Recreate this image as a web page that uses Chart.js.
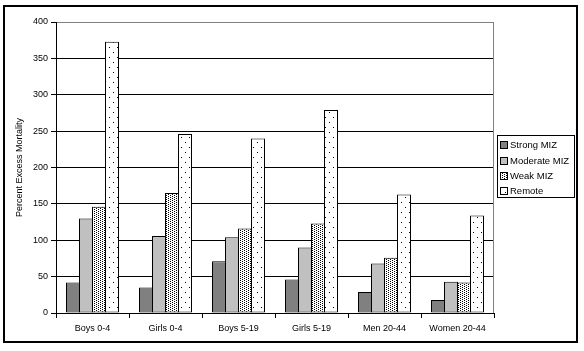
<!DOCTYPE html>
<html>
<head>
<meta charset="utf-8">
<title>Percent Excess Mortality</title>
<script src="https://cdn.jsdelivr.net/npm/chart.js@4/dist/chart.umd.min.js"></script>
<style>
  body { margin: 0; background: #fff; }
  canvas { display: block; }
</style>
</head>
<body>
<canvas id="chart" width="584" height="351"></canvas>
<script>
'use strict';

//*****DATA******/

let categories = ['Boys 0-4', 'Girls 0-4', 'Boys 5-19', 'Girls 5-19', 'Men 20-44', 'Women 20-44'];
let seriesNames = ['Strong MIZ', 'Moderate MIZ', 'Weak MIZ', 'Remote'];

let strongMiz = [42, 35, 71, 46, 29, 18];
let moderateMiz = [130, 106, 104, 90, 68, 43];
let weakMiz = [146, 165, 116, 123, 76, 42];
let remote = [373, 246, 240, 279, 163, 134];

let yTicks = [0, 50, 100, 150, 200, 250, 300, 350, 400];

//*****PATTERNS******/

function makePattern(w, h, dots) {
  let tile = document.createElement('canvas');
  tile.width = w;
  tile.height = h;
  let tctx = tile.getContext('2d');
  tctx.fillStyle = '#ffffff';
  tctx.fillRect(0, 0, w, h);
  tctx.fillStyle = '#000000';
  for (let i = 0; i < dots.length; i++) {
    tctx.fillRect(dots[i][0], dots[i][1], 1, 1);
  }
  return document.getElementById('chart').getContext('2d').createPattern(tile, 'repeat');
}

let densePattern = makePattern(4, 2, [[0, 0], [2, 1]]);
let sparsePattern = makePattern(8, 10, [[1, 2], [5, 7]]);

let fills = ['#808080', '#c0c0c0', densePattern, sparsePattern];
let values = [strongMiz, moderateMiz, weakMiz, remote];

// category is 73px wide: 13px slot per bar, bars 14px so neighbours share a border
let datasets = [];
for (let i = 0; i < seriesNames.length; i++) {
  datasets.push({
    label: seriesNames[i],
    data: values[i],
    backgroundColor: fills[i],
    borderColor: '#000000',
    borderWidth: 1,
    borderSkipped: false,
    inflateAmount: 0,
    categoryPercentage: 52 / 73,
    barPercentage: 14 / 13
  });
}

//*****PLUGINS******/

let framePlugin = {
  id: 'frame',
  beforeDraw(chart) {
    let c = chart.ctx;
    c.save();
    c.fillStyle = '#ffffff';
    c.fillRect(0, 0, chart.width, chart.height);
    c.restore();
  },
  afterDraw(chart) {
    let c = chart.ctx;
    let area = chart.chartArea;
    c.save();
    // gray plot border on the right
    c.strokeStyle = '#808080';
    c.lineWidth = 1;
    c.beginPath();
    c.moveTo(Math.round(area.right) - 0.5, area.top);
    c.lineTo(Math.round(area.right) - 0.5, area.bottom);
    c.stroke();

    // outer frame
    c.strokeStyle = '#000000';
    c.lineWidth = 2;
    c.strokeRect(4, 6, 573, 336);

    // legend
    let lx = 497, ly = 135, lw = 77, lh = 62;
    c.lineWidth = 1;
    c.strokeRect(lx + 0.5, ly + 0.5, lw, lh);
    c.font = '9.5px "Liberation Sans", Arial, sans-serif';
    c.textBaseline = 'middle';
    let rows = [145, 161, 176, 191];
    for (let i = 0; i < datasets.length; i++) {
      c.fillStyle = datasets[i].backgroundColor;
      c.fillRect(501, rows[i] - 3, 6, 6);
      c.strokeStyle = '#000000';
      c.strokeRect(500.5, rows[i] - 3.5, 7, 7);
      c.fillStyle = '#000000';
      c.fillText(datasets[i].label, 510, rows[i] + 0.5);
    }
    c.restore();
  }
};

//*****CHART******/

let fontFamily = '"Liberation Sans", Arial, sans-serif';

let chartObj = {
  type: 'bar',
  data: {
    labels: categories,
    datasets: datasets
  },
  options: {
    responsive: false,
    animation: false,
    layout: {
      padding: { left: 0, top: 22, right: 90, bottom: 0 }
    },
    plugins: {
      legend: { display: false },
      tooltip: { enabled: false }
    },
    scales: {
      x: {
        afterFit(scale) { scale.height = 38; },
        grid: {
          display: true,
          drawOnChartArea: false,
          offset: true,
          color: '#000000',
          tickLength: 5
        },
        border: { color: '#000000', width: 1 },
        ticks: {
          color: '#000000',
          padding: 5,
          maxRotation: 0,
          font: { family: fontFamily, size: 9 }
        }
      },
      y: {
        min: 0,
        max: 400,
        afterFit(scale) { scale.width = 56; },
        afterBuildTicks(scale) {
          scale.ticks = yTicks.map(v => ({ value: v }));
        },
        grid: {
          color: ctx => (ctx.tick && ctx.tick.value === 400 ? '#808080' : '#000000'),
          tickColor: '#000000',
          tickLength: 5,
          lineWidth: 1
        },
        border: { color: '#000000', width: 1 },
        title: {
          display: true,
          text: 'Percent Excess Mortality',
          color: '#000000',
          padding: { top: 14, bottom: 0 },
          font: { family: fontFamily, size: 9 }
        },
        ticks: {
          color: '#000000',
          padding: 3,
          font: { family: fontFamily, size: 9 }
        }
      }
    }
  },
  plugins: [framePlugin]
};

new Chart(document.getElementById('chart'), chartObj);
</script>
</body>
</html>
